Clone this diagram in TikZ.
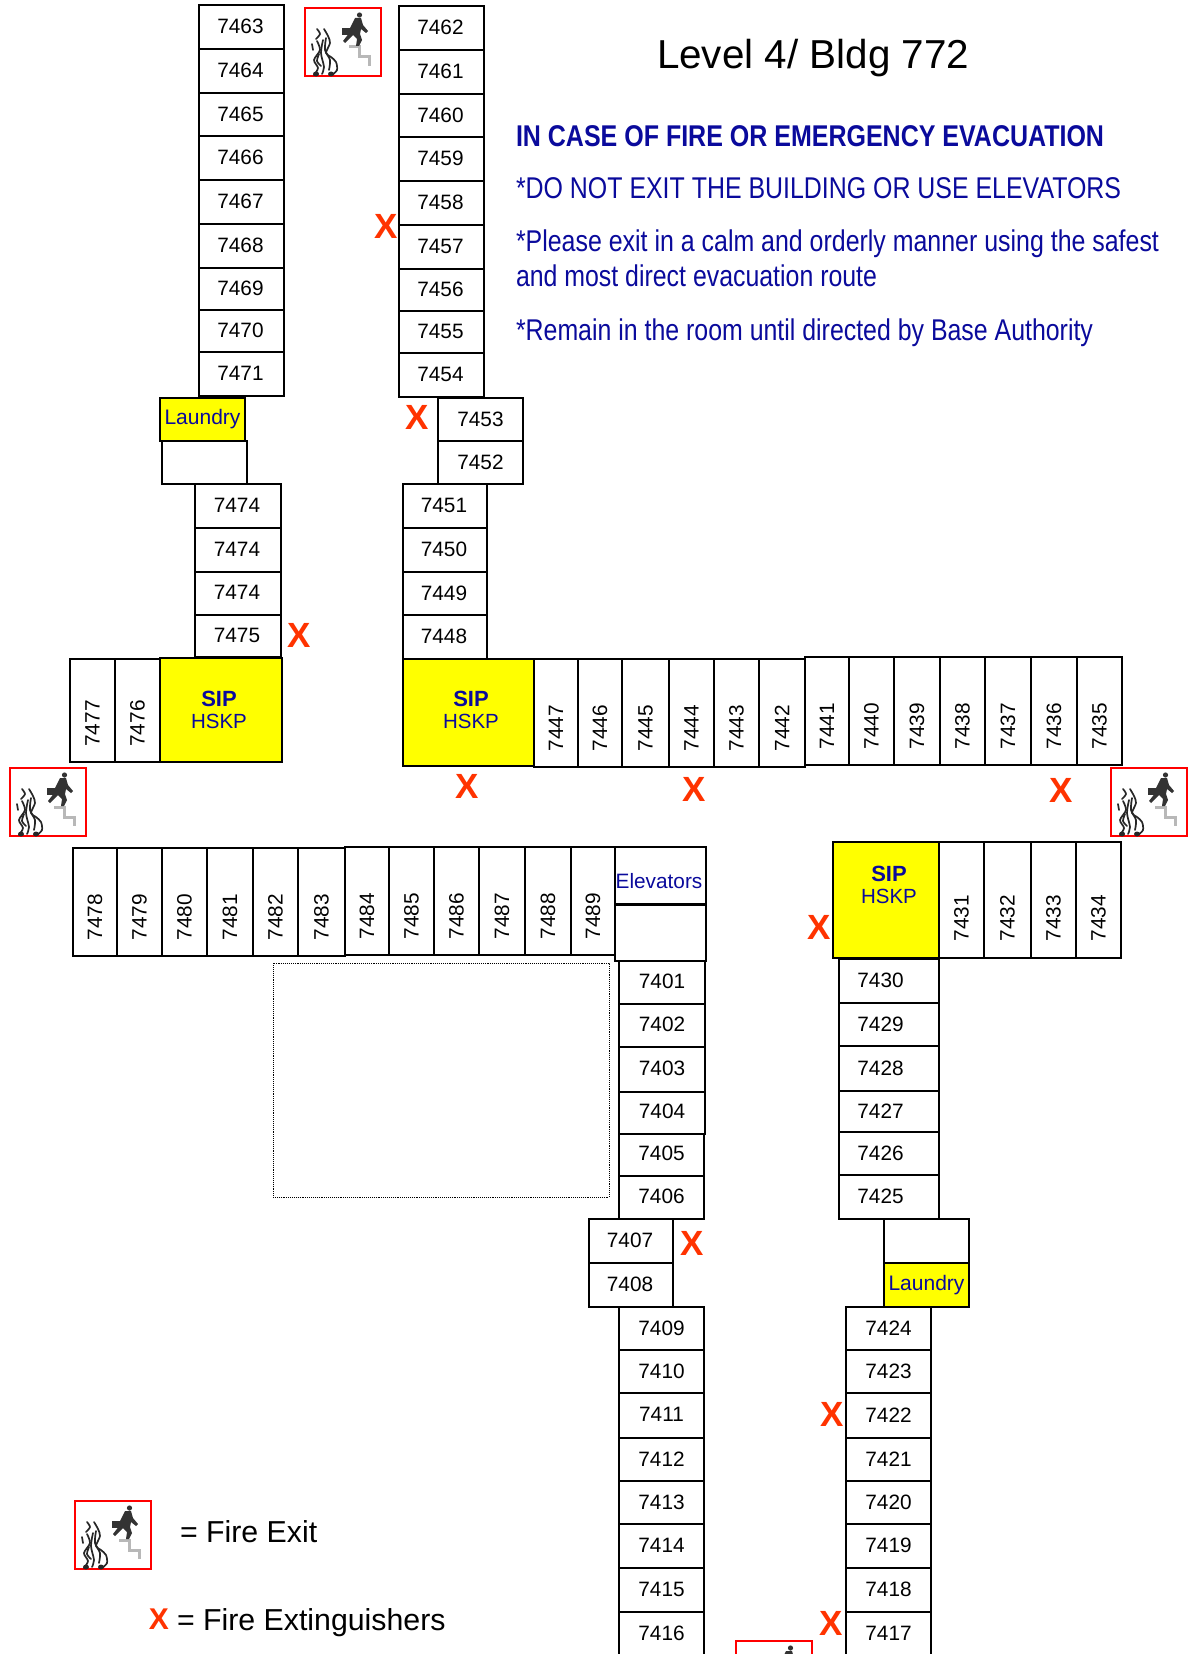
\documentclass[tikz,border=0pt]{standalone}
\usepackage{fontspec}
\setmainfont{Liberation Sans}
\definecolor{navy}{HTML}{0A0A9C}
\definecolor{xred}{HTML}{FF3300}
\definecolor{sipyellow}{RGB}{255,255,0}
\tikzset{
  room/.style={draw=black,line width=1.7pt,fill=white,inner sep=0pt,outer sep=0pt,text=black,font=\fontsize{20.8}{24}\selectfont},
  yellowroom/.style={room,fill=sipyellow,text=navy,align=center},
  xmark/.style={text=xred,inner sep=0pt,font=\fontsize{35}{36}\selectfont\bfseries},
  exitbox/.style={draw=red,line width=1.4pt,anchor=north west,minimum width=76pt,minimum height=68pt,inner sep=0pt,outer sep=0pt},
  dotbox/.style={draw=black,line width=0.9pt,densely dotted,inner sep=0pt,outer sep=0pt},
  caption/.style={anchor=base west,inner sep=0pt,outer sep=0pt},
  flame/.style={line width=1.7pt,black!85,line cap=round,line join=round},
}
\newcommand\rmgeom[4]{%
  \pgfmathsetmacro\rmw{#3-#1}\pgfmathsetmacro\rmh{#4-#2}%
  \pgfmathsetmacro\rmcx{(#1+#3)/2}\pgfmathsetmacro\rmcy{(#2+#4)/2}}
% x1 y1 x2 y2 label
\newcommand\hroom[5]{\rmgeom{#1}{#2}{#3}{#4}%
  \node[room,minimum width=\rmw pt,minimum height=\rmh pt] (room-#1-#2) at (\rmcx,\rmcy) {\raisebox{1.5pt}{#5}};}
% x1 y1 x2 y2 label, trailing space (twice the downward offset)
\newcommand\vroom[6]{\rmgeom{#1}{#2}{#3}{#4}%
  \node[room,rotate=90,minimum width=\rmh pt,minimum height=\rmw pt] (room-#1-#2) at (\rmcx,\rmcy) {#5\hspace*{#6pt}};}
\newcommand\yroom[5]{\rmgeom{#1}{#2}{#3}{#4}%
  \node[yellowroom,minimum width=\rmw pt,minimum height=\rmh pt] (room-#1-#2) at (\rmcx,\rmcy) {#5};}
\newcommand\siptext{\begin{tabular}{@{}c@{}}{\fontsize{22}{23}\selectfont\bfseries SIP}\\[-1.5pt]{\fontsize{20.5}{22}\selectfont HSKP}\end{tabular}}
\newcommand\laundrytext{\raisebox{5pt}{\fontsize{21}{23}\selectfont Laundry}}
\newcommand\bluetext[5]{\node[caption,text=navy] (#5) at (516,#1) {\resizebox{#2pt}{\height}{\fontsize{#3}{#3}\selectfont #4}};}
\newcommand\exiticon[3]{%
  \node[exitbox] (#1) at (#2,#3) {};
  \begin{scope}[shift={(#2,#3)}]
    \draw[flame] plot[smooth] coordinates {(19,21) (23,28) (25,35) (21,45) (26,49) (31,54) (32,62) (27,67)};
    \draw[flame] plot[smooth] coordinates {(12,21) (15,26) (11,31)};
    \draw[flame] plot[smooth] coordinates {(12,33) (15,42) (9,52) (13,60) (9,67)};
    \draw[flame] plot[smooth] coordinates {(18,32) (16,45) (19,59) (17,66)};
    \draw[flame] plot[smooth] coordinates {(21,30) (20,42) (25,52) (24,62)};
    \draw[flame] plot[smooth] coordinates {(14,46) (12,53) (16,58)};
    \draw[flame] (7,36) -- (8,42);
    \fill[black!85] (11,66) ellipse (3 and 2.5);
    \fill[black!85] (26,66) ellipse (3 and 2.5);
    \draw[line width=3pt,black!28,line join=miter] (44,39) -- (54,39) -- (54,49) -- (64,49) -- (64,58);
    \fill[black!80] (54.5,7) circle (2.6);
    \fill[black!80] (50,10) -- (56,10) -- (58,17) -- (63,23) -- (61,25) -- (56,21) -- (55,26) -- (57,32) -- (54,38) -- (51,38) -- (52,31) -- (48,27) -- (40,35) -- (38,33) -- (45,24) -- (45,20) -- cycle;
    \fill[black!80] (37,20) rectangle (45,27);
  \end{scope}}
\begin{document}
\begin{tikzpicture}[x=1pt,y=-1pt]
\useasboundingbox (0,0) rectangle (1193,1654);
\fill[white] (0,0) rectangle (1193,1654);
\clip (0,0) rectangle (1193,1654);
% top-left column
\foreach \ya/\yb/\lab in {5/49/7463,49/93/7464,93/136/7465,136/180/7466,180/224/7467,224/268/7468,268/310/7469,310/352/7470,352/396/7471}
  {\hroom{199}{\ya}{284}{\yb}{\lab\hspace*{2pt}}}
% top-right column
\foreach \ya/\yb/\lab in {6/50/7462,50/94/7461,94/137/7460,137/181/7459,181/225/7458,225/269/7457,269/311/7456,311/353/7455,353/397/7454}
  {\hroom{399}{\ya}{484}{\yb}{\lab\hspace*{2pt}}}
% laundry north
\yroom{160}{398}{245}{441}{\laundrytext}
\hroom{162}{441}{247}{484}{}
\foreach \ya/\yb/\lab in {484/528/7474,528/572/7474,572/615/7474,615/657/7475}
  {\hroom{195}{\ya}{281}{\yb}{\lab\hspace*{2pt}}}
\foreach \ya/\yb/\lab in {398/441/7453,441/484/7452}
  {\hroom{438}{\ya}{523}{\yb}{\lab}}
\foreach \ya/\yb/\lab in {484/528/7451,528/572/7450,572/615/7449,615/659/7448}
  {\hroom{403}{\ya}{487}{\yb}{\lab\hspace*{2pt}}}
% west wing top
\vroom{70}{659}{115}{762}{7477}{26}
\vroom{115}{659}{160}{762}{7476}{26}
\yroom{160}{658}{282}{762}{\hspace*{-1pt}\raisebox{0pt}[\dimexpr\height+5pt][\depth]{\siptext}\hspace*{3pt}}
% central row
\yroom{403}{659}{534}{766}{\hspace*{5pt}\raisebox{3pt}{\siptext}}
\foreach \xa/\xb/\lab in {534/578/7447,578/622/7446,622/669/7445,669/714/7444,714/759/7443,759/805/7442}
  {\vroom{\xa}{659}{\xb}{767}{\lab}{30}}
\foreach \xa/\xb/\lab in {805/849/7441,849/894/7440,894/940/7439,940/985/7438,985/1031/7437,1031/1077/7436,1077/1122/7435}
  {\vroom{\xa}{657}{\xb}{765}{\lab}{30}}
% lower row
\foreach \xa/\xb/\lab in {73/117/7478,117/162/7479,162/207/7480,207/253/7481,253/298/7482,298/345/7483}
  {\vroom{\xa}{848}{\xb}{956}{\lab}{30}}
\foreach \xa/\xb/\lab in {345/389/7484,389/434/7485,434/479/7486,479/525/7487,525/571/7488,571/615/7489}
  {\vroom{\xa}{847}{\xb}{955}{\lab}{30}}
\node[room,text=navy,minimum width=91pt,minimum height=57pt] (elevators) at (660.5,875.5) {\raisebox{0pt}[\dimexpr\height+10.6pt][\depth]{Elevators}\hspace*{3pt}};
\hroom{615}{905}{706}{961}{}
% central column
\foreach \ya/\yb/\lab in {961/1004/7401,1004/1047/7402,1047/1092/7403,1092/1134/7404}
  {\hroom{619}{\ya}{705}{\yb}{\raisebox{1.5pt}{\lab}}}
\foreach \ya/\yb/\lab in {1134/1176/7405,1176/1219/7406}
  {\hroom{619}{\ya}{704}{\yb}{\raisebox{1.5pt}{\lab}}}
\foreach \ya/\yb/\lab in {1219/1263/7407,1263/1307/7408}
  {\hroom{589}{\ya}{673}{\yb}{\lab\hspace*{2pt}}}
\foreach \ya/\yb/\lab in {1307/1350/7409,1350/1393/7410,1393/1438/7411,1438/1481/7412,1481/1524/7413,1524/1568/7414,1568/1612/7415,1612/1656/7416}
  {\hroom{619}{\ya}{704}{\yb}{\lab}}
% courtyard
\node[dotbox,minimum width=336pt,minimum height=234pt] (courtyard) at (441,1080) {};
% east block
\yroom{833}{842}{939}{958}{\hspace*{6pt}\raisebox{43pt}{\siptext}}
\foreach \xa/\xb/\lab in {939/984/7431,984/1031/7432,1031/1076/7433,1076/1121/7434}
  {\vroom{\xa}{842}{\xb}{958}{\lab}{36}}
\foreach \ya/\yb/\lab in {959/1003/7430,1003/1046/7429,1046/1091/7428,1091/1132/7427,1132/1175/7426,1175/1219/7425}
  {\hroom{839}{\ya}{939}{\yb}{\lab\hspace*{17pt}}}
\hroom{884}{1219}{969}{1263}{}
\yroom{884}{1263}{969}{1307}{\laundrytext}
\foreach \ya/\yb/\lab in {1307/1350/7424,1350/1393/7423,1393/1438/7422,1438/1481/7421,1481/1524/7420,1524/1568/7419,1568/1612/7418,1612/1656/7417}
  {\hroom{846}{\ya}{931}{\yb}{\lab}}
% extinguishers
\node[xmark] (x1) at (299.5,635) {X};
\node[xmark] (x2) at (386,226) {X};
\node[xmark] (x3) at (417,417) {X};
\node[xmark] (x4) at (467,786) {X};
\node[xmark] (x5) at (694,789) {X};
\node[xmark] (x6) at (1061,790) {X};
\node[xmark] (x7) at (819,927) {X};
\node[xmark] (x8) at (692,1243) {X};
\node[xmark] (x9) at (832,1414) {X};
\node[xmark] (x10) at (831,1623) {X};
% fire exits
\exiticon{exit1}{305}{8}
\exiticon{exit2}{10}{768}
\exiticon{exit3}{1111}{768}
\exiticon{exit4}{736}{1641}
\exiticon{exit5}{75}{1501}
% legend
\node[caption] (legendexit) at (180,1542) {\fontsize{30.3}{32}\selectfont = Fire Exit};
\node[xmark,font=\fontsize{30}{32}\selectfont\bfseries] (legendx) at (159,1619) {X};
\node[caption] (legendext) at (177,1630) {\fontsize{30.3}{32}\selectfont = Fire Extinguishers};
% heading and instructions
\node[caption] (title) at (657,68) {\fontsize{40.4}{44}\selectfont Level 4/ Bldg 772};
\bluetext{146}{588}{30}{\bfseries IN CASE OF FIRE OR EMERGENCY EVACUATION}{line1}
\bluetext{198}{605}{30}{*DO NOT EXIT THE BUILDING OR USE ELEVATORS}{line2}
\bluetext{251}{643}{30}{*Please exit in a calm and orderly manner using the safest}{line3}
\bluetext{286}{361}{30}{and most direct evacuation route}{line4}
\bluetext{340}{577}{30}{*Remain in the room until directed by Base Authority}{line5}
\end{tikzpicture}
\end{document}
